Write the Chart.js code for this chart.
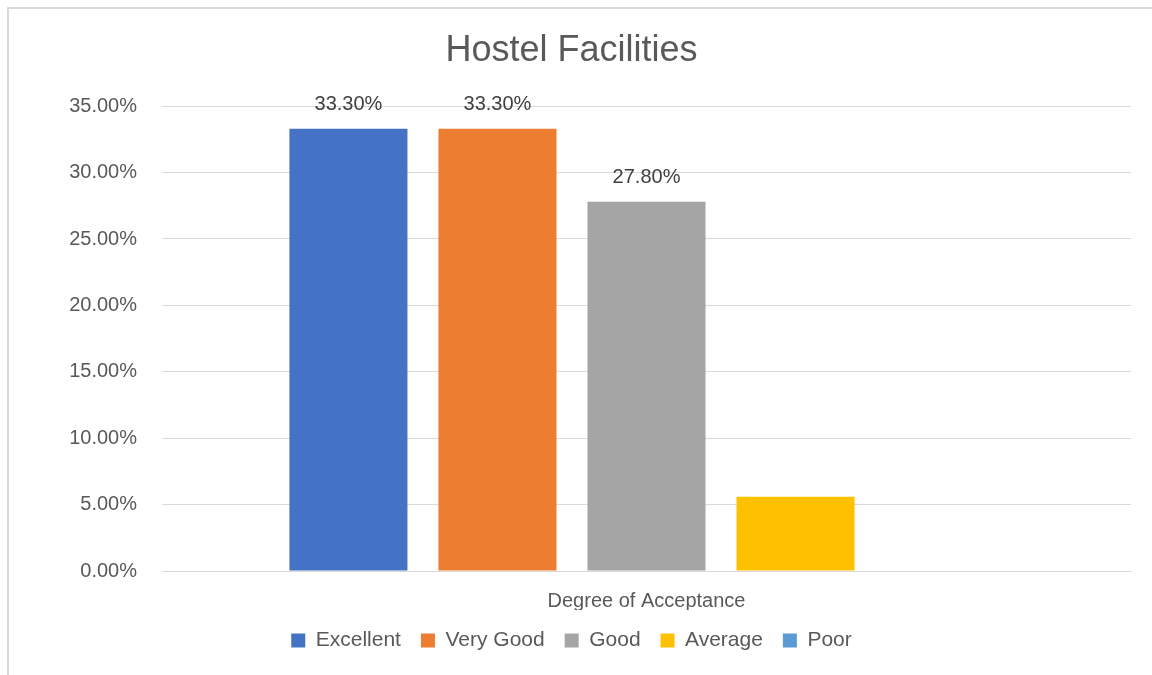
<!DOCTYPE html>
<html>
<head>
<meta charset="utf-8">
<script src="https://cdn.jsdelivr.net/npm/chart.js@4/dist/chart.umd.min.js"></script>
<style>
    html, body { margin: 0; padding: 0; background: #fff; }
    #wrap { position: relative; width: 1152px; height: 675px; overflow: hidden; }
    #frame { position: absolute; left: 7px; top: 7px; width: 2000px; height: 2000px;
             border-left: 2px solid #d9d9d9; border-top: 2px solid #d9d9d9; }
    canvas { position: absolute; left: 0; top: 0; }
</style>
</head>
<body>
<div id="wrap">
    <div id="frame"></div>
    <canvas id="myChart" width="1152" height="675"></canvas>
</div>
<script>
const CATEGORIES = ["Degree of Acceptance"];
const SERIES_NAMES = ["Excellent", "Very Good", "Good", "Average", "Poor"];
const SERIES_VALUES = [33.3, 33.3, 27.8, 5.6, 0];
const SHOW_LABEL = [true, true, true, false, false];
const Y_TICKS = [0, 5, 10, 15, 20, 25, 30, 35];

const COLOURS = ["#4472C4", "#ED7D31", "#A5A5A5", "#FFC000", "#5B9BD5"];
const TEXT = "#595959";
const FONT = "'Liberation Sans', Arial, sans-serif";
const LEFT_PAD = 12;

// draws the value above each bar, like Excel data labels
const barLabels = {
    id: 'barLabels',
    afterDatasetsDraw(chart) {
        const ctx = chart.ctx;
        ctx.save();
        ctx.font = "20px " + FONT;
        ctx.fillStyle = "#404040";
        ctx.textAlign = "center";
        ctx.textBaseline = "alphabetic";
        chart.data.datasets.forEach((ds, i) => {
            if (!SHOW_LABEL[i]) return;
            const meta = chart.getDatasetMeta(i);
            meta.data.forEach((bar, j) => {
                ctx.fillText(ds.data[j].toFixed(2) + "%", bar.x, bar.y - 19);
            });
        });
        ctx.restore();
    }
};

let datasets = [];
for (let i = 0; i < SERIES_NAMES.length; i++) {
    datasets.push({
        label: SERIES_NAMES[i],
        data: [SERIES_VALUES[i]],
        backgroundColor: COLOURS[i],
        borderWidth: 0,
        categoryPercentage: 0.769,
        barPercentage: 0.792,
    });
}

const ctx = document.getElementById('myChart').getContext('2d');
new Chart(ctx, {
    type: 'bar',
    data: {
        labels: CATEGORIES,
        datasets: datasets,
    },
    options: {
        responsive: false,
        animation: false,
        layout: { padding: { left: LEFT_PAD, right: 21, top: 10, bottom: 14 } },
        plugins: {
            title: {
                display: true,
                text: "Hostel Facilities",
                color: TEXT,
                font: { family: FONT, size: 36, weight: 'normal' },
                padding: { top: 19, bottom: 34 },
            },
            legend: {
                position: 'bottom',
                labels: {
                    color: TEXT,
                    font: { family: FONT, size: 21 },
                    boxWidth: 14,
                    boxHeight: 14,
                    padding: 20,
                },
            },
            tooltip: { enabled: false },
        },
        scales: {
            x: {
                afterFit: (scale) => { scale.height = 39; },
                grid: { display: false, drawTicks: false },
                border: { display: true, color: "#d9d9d9", width: 1 },
                ticks: { color: TEXT, font: { family: FONT, size: 20 }, padding: 18 },
            },
            y: {
                min: 0,
                max: 35,
                afterBuildTicks: (scale) => { scale.ticks = Y_TICKS.map(v => ({ value: v })); },
                afterFit: (scale) => { scale.width = 162 - LEFT_PAD; },
                grid: { color: "#d9d9d9", drawTicks: false },
                border: { display: false },
                ticks: {
                    color: TEXT,
                    font: { family: FONT, size: 20 },
                    padding: 25,
                    callback: (v) => v.toFixed(2) + "%",
                },
            },
        },
    },
    plugins: [barLabels],
});
</script>
</body>
</html>
